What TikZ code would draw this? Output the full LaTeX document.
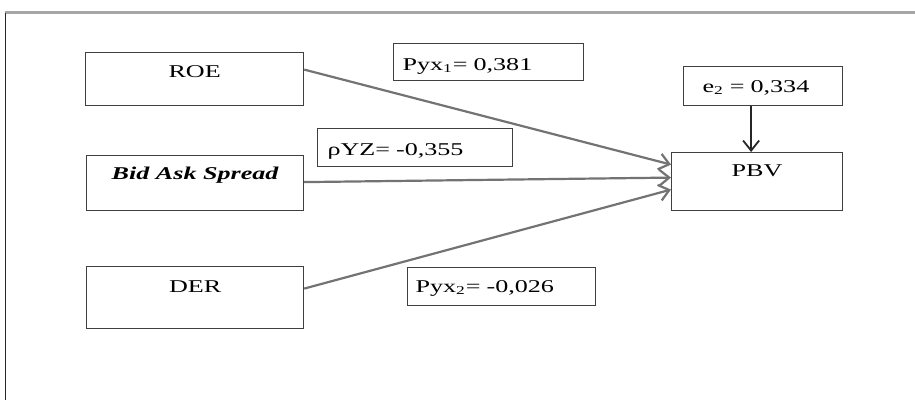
\documentclass[tikz,border=0pt]{standalone}
\usepackage{fontspec}
\setmainfont{Liberation Serif}[FakeStretch=1.45]
\usetikzlibrary{arrows.meta}
\begin{document}
\begin{tikzpicture}[x=0.5pt,y=-0.5pt, font=\fontsize{9}{11}\selectfont,
  varbox/.style={draw=black!75, line width=0.6pt, inner sep=0pt, anchor=north west},
  lblbox/.style={draw=black!75, line width=0.6pt, inner ysep=0pt, anchor=north west, align=left},
  link/.style={draw=black!55, line width=1.1pt, -{Straight Barb[length=5pt,width=8pt]}},
  errlink/.style={draw=black!85, line width=0.9pt, -{Straight Barb[length=5pt,width=8pt]}}]
\useasboundingbox (0,0) rectangle (915,400);
% frame
\draw[black!35, line width=1.5pt] (5,13) -- (915,13);
\draw[black!85, line width=0.5pt] (5,13) -- (5,400);
% variable boxes
\node[varbox, minimum width=109pt, text height=12.5pt, text depth=14pt] (roe) at (85,52) {ROE};
\node[varbox, minimum width=108.5pt, text height=12pt, text depth=15.5pt] (bid) at (86,155) {\bfseries\itshape Bid Ask Spread};
\node[varbox, minimum width=108.5pt, text height=13pt, text depth=18pt] (der) at (86,266) {DER};
\node[varbox, minimum width=85.5pt, text height=12pt, text depth=17pt] (pbv) at (671,152) {PBV};
% coefficient labels
\node[lblbox, inner xsep=4.5pt, text width=86pt, text height=13.5pt, text depth=5pt] (p1) at (393,43) {Pyx\textsubscript{1}= 0,381};
\node[lblbox, inner xsep=5pt, text width=87.5pt, text height=13.5pt, text depth=5.5pt] (rho) at (317,128) {ρYZ= -0,355};
\node[lblbox, inner xsep=4pt, text width=86pt, text height=12.5pt, text depth=6.5pt] (p2) at (407,267) {Pyx\textsubscript{2}= -0,026};
\node[lblbox, inner xsep=9.5pt, text width=60.5pt, text height=13pt, text depth=6.5pt] (e2) at (683,66) {e\textsubscript{2} = 0,334};
% paths
\draw[link] ([yshift=4.75pt]roe.east) -- ([yshift=8.5pt]pbv.west);
\draw[link] ([yshift=0.5pt]bid.east) -- ([yshift=2pt]pbv.west);
\draw[link] ([yshift=4.5pt]der.east) -- ([yshift=-4pt]pbv.west);
\draw[errlink] ([xshift=-6pt]e2.south) -- ([xshift=-6pt]e2.south |- pbv.north);
\end{tikzpicture}
\end{document}
